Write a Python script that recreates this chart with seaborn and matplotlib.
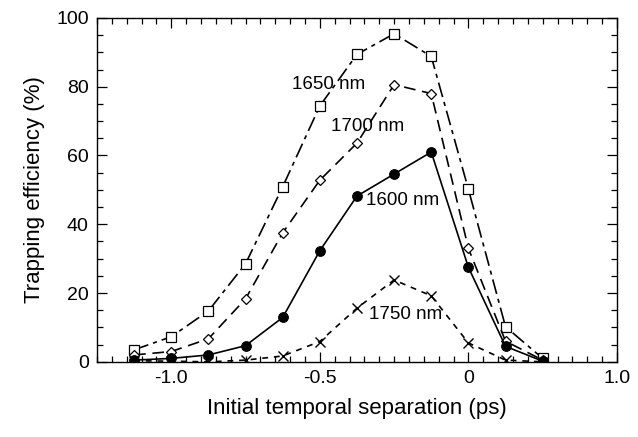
import numpy as np
import pandas as pd
import seaborn as sns
import matplotlib.pyplot as plt
from matplotlib.ticker import MultipleLocator

# initial temporal separation (ps)
sep = [-1.125, -1.0, -0.875, -0.75, -0.625, -0.5, -0.375, -0.25, -0.125, 0.0, 0.125, 0.25]

# trapping efficiency (%) per wavelength
eff_1600 = [0.5, 1.0, 2.0, 4.7, 12.9, 32.3, 48.2, 54.6, 61.0, 27.5, 4.5, 0.2]
eff_1650 = [3.5, 7.3, 14.8, 28.5, 50.9, 74.4, 89.4, 95.4, 88.8, 50.2, 10.2, 1.0]
eff_1700 = [2.0, 3.0, 6.7, 18.3, 37.5, 52.8, 63.6, 80.6, 78.0, 33.0, 6.0, 0.5]
eff_1750 = [0.3, 0.2, 0.0, 0.5, 1.7, 5.9, 15.6, 23.8, 19.2, 5.5, 0.5, 0.0]

xtick_pos = [-1.0, -0.5, 0.0, 0.5]
xtick_lab = ["-1.0", "-0.5", "0", "1.0"]

sns.set_style("ticks")
plt.rcParams["font.family"] = ["Liberation Sans", "DejaVu Sans"]
plt.rcParams["text.color"] = "black"
plt.rcParams["axes.labelcolor"] = "black"
plt.rcParams["xtick.color"] = "black"
plt.rcParams["ytick.color"] = "black"

fig = plt.figure(figsize=(6.38, 4.37), dpi=100)
ax = fig.add_axes([0.152, 0.172, 0.815, 0.787])

df = pd.DataFrame({"sep": sep, "e1600": eff_1600, "e1650": eff_1650,
                   "e1700": eff_1700, "e1750": eff_1750})

sns.lineplot(data=df, x="sep", y="e1650", ax=ax, color="black", lw=1.2,
             linestyle=(0, (9, 3, 2.5, 3)), marker="s", markersize=7,
             markerfacecolor="white", markeredgecolor="black", markeredgewidth=0.9)
sns.lineplot(data=df, x="sep", y="e1700", ax=ax, color="black", lw=1.2,
             linestyle=(0, (7, 4)), marker="D", markersize=5,
             markerfacecolor="white", markeredgecolor="black", markeredgewidth=0.9)
sns.lineplot(data=df, x="sep", y="e1750", ax=ax, color="black", lw=1.2,
             linestyle=(0, (3.5, 3.5)), marker="x", markersize=7.5,
             markeredgecolor="black", markeredgewidth=1.0)
sns.lineplot(data=df, x="sep", y="e1600", ax=ax, color="black", lw=1.2,
             linestyle="-", marker="o", markersize=7,
             markerfacecolor="black", markeredgecolor="black")

fs_lab = 13.5
ax.text(-0.47, 80.5, "1650 nm", fontsize=fs_lab, ha="center", va="center")
ax.text(-0.34, 68.3, "1700 nm", fontsize=fs_lab, ha="center", va="center")
ax.text(-0.22, 47.0, "1600 nm", fontsize=fs_lab, ha="center", va="center")
ax.text(-0.21, 13.7, "1750 nm", fontsize=fs_lab, ha="center", va="center")

ax.set_xlim(-1.25, 0.5)
ax.set_ylim(0, 100)
ax.set_xticks(xtick_pos)
ax.set_xticklabels(xtick_lab)
ax.xaxis.set_minor_locator(MultipleLocator(0.05))
ax.set_yticks([0, 20, 40, 60, 80, 100])
ax.yaxis.set_minor_locator(MultipleLocator(5))
ax.tick_params(which="both", direction="in", top=True, right=True,
               labelsize=14, width=0.9, color="black", labelcolor="black")
ax.tick_params(which="major", length=7, pad=6)
ax.tick_params(which="minor", length=4)
for s in ax.spines.values():
    s.set_linewidth(1.0)
    s.set_color("black")

ax.set_xlabel("Initial temporal separation (ps)", fontsize=16, labelpad=8)
ax.set_ylabel("Trapping efficiency (%)", fontsize=16, labelpad=8)

fig.savefig("out.png", dpi=100)
